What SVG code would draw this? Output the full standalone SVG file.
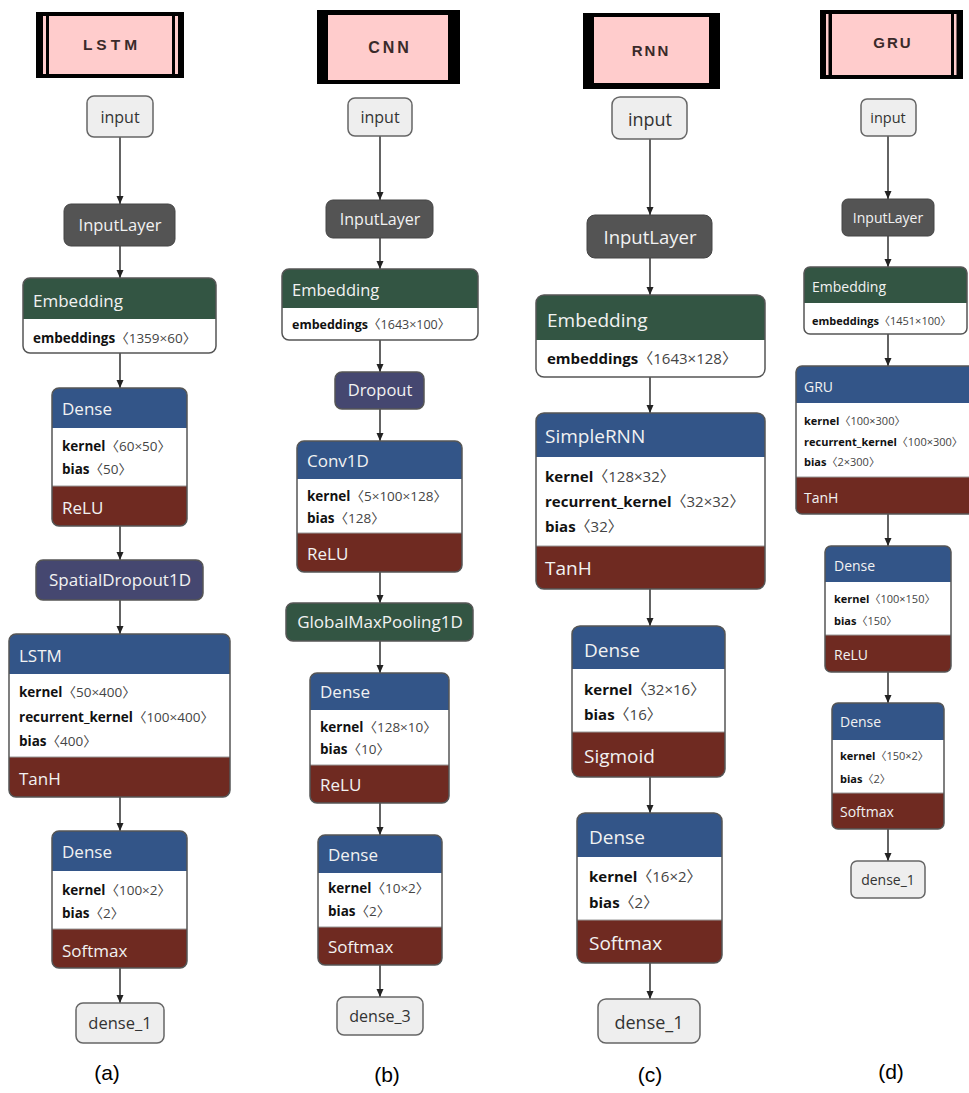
<svg xmlns="http://www.w3.org/2000/svg" width="969" height="1093" viewBox="0 0 969 1093">
<defs>
<marker id="arr" markerUnits="userSpaceOnUse" markerWidth="10" markerHeight="10" refX="8" refY="4" orient="auto">
<path d="M0,0.5 L8,4 L0,7.5 z" fill="#222"/>
</marker>
<style>
text{font-family:"Open Sans","Noto Sans","DejaVu Sans",sans-serif}
.bg{fill:#fff}
.io{fill:#eeeeee;stroke:#666;stroke-width:1.5}
.il{fill:#545454;stroke:#444;stroke-width:1}
.blue{fill:#335588}
.green{fill:#335543}
.purple{fill:#454770}
.act{fill:#6f2a21}
.white{fill:#fff}
.outl{fill:none;stroke:#555;stroke-width:1.5}
.sep{stroke:#999;stroke-width:1}
.ht{fill:#f2f2f2}
.iot{fill:#333;text-anchor:middle}
.ct{fill:#f2f2f2;text-anchor:middle}
.lb{font-weight:bold;fill:#111}
.val{fill:#444;font-family:"Open Sans","Noto Sans CJK SC",sans-serif}
.tb{fill:#000}
.pink{fill:#ffcccc}
.title{font-family:"Liberation Sans",Arial,sans-serif;font-weight:bold;fill:#3a2a2a;text-anchor:middle}
.cap{font-family:"Liberation Sans",Arial,sans-serif;fill:#000;text-anchor:middle;font-size:21px}
.edge{stroke:#222;stroke-width:1.4;fill:none;marker-end:url(#arr)}
</style>
</defs>
<rect class="bg" x="0" y="0" width="969" height="1093"/>

<!-- ================= connectors ================= -->
<g id="connectors">
<line class="edge" x1="120" y1="137" x2="120" y2="204"/>
<line class="edge" x1="120" y1="246" x2="120" y2="278"/>
<line class="edge" x1="120" y1="353" x2="120" y2="388"/>
<line class="edge" x1="120" y1="526" x2="120" y2="560"/>
<line class="edge" x1="120" y1="600" x2="120" y2="634"/>
<line class="edge" x1="120" y1="797" x2="120" y2="831"/>
<line class="edge" x1="120" y1="968" x2="120" y2="1003"/>

<line class="edge" x1="380" y1="136" x2="380" y2="200"/>
<line class="edge" x1="380" y1="238" x2="380" y2="269"/>
<line class="edge" x1="380" y1="340" x2="380" y2="372"/>
<line class="edge" x1="380" y1="409" x2="380" y2="441"/>
<line class="edge" x1="380" y1="572" x2="380" y2="603"/>
<line class="edge" x1="380" y1="641" x2="380" y2="673"/>
<line class="edge" x1="380" y1="803" x2="380" y2="835"/>
<line class="edge" x1="380" y1="965" x2="380" y2="997"/>

<line class="edge" x1="650" y1="139" x2="650" y2="215"/>
<line class="edge" x1="650" y1="258" x2="650" y2="295"/>
<line class="edge" x1="650" y1="377" x2="650" y2="413"/>
<line class="edge" x1="650" y1="589" x2="650" y2="626"/>
<line class="edge" x1="650" y1="777" x2="650" y2="813"/>
<line class="edge" x1="650" y1="963" x2="650" y2="999"/>

<line class="edge" x1="888" y1="136" x2="888" y2="199"/>
<line class="edge" x1="888" y1="236" x2="888" y2="267"/>
<line class="edge" x1="888" y1="334" x2="888" y2="366"/>
<line class="edge" x1="888" y1="514" x2="888" y2="546"/>
<line class="edge" x1="888" y1="672" x2="888" y2="703"/>
<line class="edge" x1="888" y1="829" x2="888" y2="861"/>
</g>

<!-- ================= column (a) LSTM ================= -->
<g id="a-title">
<rect class="tb" x="36" y="12" width="148" height="66"/>
<rect class="pink" x="49" y="16" width="123" height="58"/>
<rect class="pink" x="43" y="16" width="3" height="58"/>
<rect class="pink" x="175" y="16" width="3" height="58"/>
<text class="title" x="112" y="50" font-size="15.5" letter-spacing="4">LSTM</text>
</g>
<g id="a-input">
<rect class="io" x="87" y="96" width="66" height="41" rx="7"/>
<text class="iot" x="120" y="123" font-size="16">input</text>
</g>
<g id="a-inputlayer">
<rect class="il" x="64" y="204" width="111" height="42" rx="7"/>
<text class="ct" x="120" y="231" font-size="16.5">InputLayer</text>
</g>
<g id="a-embedding">
<rect class="green" x="23" y="278" width="193" height="75" rx="7"/>
<rect class="white" x="23" y="319" width="193" height="34" rx="7"/>
<rect class="white" x="23" y="319" width="193" height="10"/>
<rect class="outl" x="23" y="278" width="193" height="75" rx="7"/>
<text class="ht" x="33" y="307" font-size="17">Embedding</text>
<text x="33" y="343" font-size="13.5"><tspan class="lb">embeddings</tspan><tspan class="val">〈1359×60〉</tspan></text>
</g>
<g id="a-dense1">
<rect class="blue" x="52" y="388" width="135" height="138" rx="7"/>
<rect class="white" x="52" y="428" width="135" height="58"/>
<rect class="act" x="52" y="486" width="135" height="40" rx="7"/>
<rect class="act" x="52" y="486" width="135" height="10"/>
<line class="sep" x1="52" y1="486" x2="187" y2="486"/>
<rect class="outl" x="52" y="388" width="135" height="138" rx="7"/>
<text class="ht" x="62" y="415" font-size="17">Dense</text>
<text x="62" y="451" font-size="13.5"><tspan class="lb">kernel</tspan><tspan class="val">〈60×50〉</tspan></text>
<text x="62" y="474" font-size="13.5"><tspan class="lb">bias</tspan><tspan class="val">〈50〉</tspan></text>
<text class="ht" x="62" y="514" font-size="17">ReLU</text>
</g>
<g id="a-spatialdropout">
<rect class="purple" x="36" y="560" width="167" height="40" rx="7"/>
<rect class="outl" x="36" y="560" width="167" height="40" rx="7"/>
<text class="ct" x="120" y="586" font-size="17">SpatialDropout1D</text>
</g>
<g id="a-lstm">
<rect class="blue" x="9" y="634" width="221" height="163" rx="7"/>
<rect class="white" x="9" y="674" width="221" height="83"/>
<rect class="act" x="9" y="757" width="221" height="40" rx="7"/>
<rect class="act" x="9" y="757" width="221" height="10"/>
<line class="sep" x1="9" y1="757" x2="230" y2="757"/>
<rect class="outl" x="9" y="634" width="221" height="163" rx="7"/>
<text class="ht" x="19" y="662" font-size="17">LSTM</text>
<text x="19" y="697" font-size="13.5"><tspan class="lb">kernel</tspan><tspan class="val">〈50×400〉</tspan></text>
<text x="19" y="722" font-size="13.5"><tspan class="lb">recurrent_kernel</tspan><tspan class="val">〈100×400〉</tspan></text>
<text x="19" y="746" font-size="13.5"><tspan class="lb">bias</tspan><tspan class="val">〈400〉</tspan></text>
<text class="ht" x="19" y="785" font-size="17">TanH</text>
</g>
<g id="a-dense2">
<rect class="blue" x="52" y="831" width="135" height="137" rx="7"/>
<rect class="white" x="52" y="871" width="135" height="58"/>
<rect class="act" x="52" y="929" width="135" height="39" rx="7"/>
<rect class="act" x="52" y="929" width="135" height="10"/>
<line class="sep" x1="52" y1="929" x2="187" y2="929"/>
<rect class="outl" x="52" y="831" width="135" height="137" rx="7"/>
<text class="ht" x="62" y="858" font-size="17">Dense</text>
<text x="62" y="895" font-size="13.5"><tspan class="lb">kernel</tspan><tspan class="val">〈100×2〉</tspan></text>
<text x="62" y="918" font-size="13.5"><tspan class="lb">bias</tspan><tspan class="val">〈2〉</tspan></text>
<text class="ht" x="62" y="957" font-size="17">Softmax</text>
</g>
<g id="a-output">
<rect class="io" x="76" y="1003" width="88" height="40" rx="7"/>
<text class="iot" x="120" y="1029" font-size="16.5">dense_1</text>
</g>
<text class="cap" x="107" y="1080">(a)</text>

<!-- ================= column (b) CNN ================= -->
<g id="b-title">
<rect class="tb" x="317" y="10" width="143" height="74"/>
<rect class="pink" x="328" y="15" width="120" height="65"/>
<text class="title" x="390" y="53" font-size="16" letter-spacing="3">CNN</text>
</g>
<g id="b-input">
<rect class="io" x="348" y="98" width="64" height="38" rx="7"/>
<text class="iot" x="380" y="123" font-size="16">input</text>
</g>
<g id="b-inputlayer">
<rect class="il" x="326" y="200" width="107" height="38" rx="7"/>
<text class="ct" x="380" y="225" font-size="16">InputLayer</text>
</g>
<g id="b-embedding">
<rect class="green" x="282" y="269" width="196" height="71" rx="7"/>
<rect class="white" x="282" y="308" width="196" height="32" rx="7"/>
<rect class="white" x="282" y="308" width="196" height="10"/>
<rect class="outl" x="282" y="269" width="196" height="71" rx="7"/>
<text class="ht" x="292" y="296" font-size="16.5">Embedding</text>
<text x="292" y="329" font-size="12.5"><tspan class="lb">embeddings</tspan><tspan class="val">〈1643×100〉</tspan></text>
</g>
<g id="b-dropout">
<rect class="purple" x="335" y="372" width="89" height="37" rx="7"/>
<rect class="outl" x="335" y="372" width="89" height="37" rx="7"/>
<text class="ct" x="380" y="396" font-size="16.5">Dropout</text>
</g>
<g id="b-conv1d">
<rect class="blue" x="297" y="441" width="165" height="131" rx="7"/>
<rect class="white" x="297" y="479" width="165" height="54"/>
<rect class="act" x="297" y="533" width="165" height="39" rx="7"/>
<rect class="act" x="297" y="533" width="165" height="10"/>
<line class="sep" x1="297" y1="533" x2="462" y2="533"/>
<rect class="outl" x="297" y="441" width="165" height="131" rx="7"/>
<text class="ht" x="307" y="467" font-size="17">Conv1D</text>
<text x="307" y="501" font-size="13.5"><tspan class="lb">kernel</tspan><tspan class="val">〈5×100×128〉</tspan></text>
<text x="307" y="523" font-size="13.5"><tspan class="lb">bias</tspan><tspan class="val">〈128〉</tspan></text>
<text class="ht" x="307" y="560" font-size="17">ReLU</text>
</g>
<g id="b-globalmaxpool">
<rect class="green" x="286" y="603" width="187" height="38" rx="7"/>
<rect class="outl" x="286" y="603" width="187" height="38" rx="7"/>
<text class="ct" x="380" y="628" font-size="17">GlobalMaxPooling1D</text>
</g>
<g id="b-dense1">
<rect class="blue" x="310" y="673" width="139" height="130" rx="7"/>
<rect class="white" x="310" y="710" width="139" height="55"/>
<rect class="act" x="310" y="765" width="139" height="38" rx="7"/>
<rect class="act" x="310" y="765" width="139" height="10"/>
<line class="sep" x1="310" y1="765" x2="449" y2="765"/>
<rect class="outl" x="310" y="673" width="139" height="130" rx="7"/>
<text class="ht" x="320" y="698" font-size="17">Dense</text>
<text x="320" y="732" font-size="13.5"><tspan class="lb">kernel</tspan><tspan class="val">〈128×10〉</tspan></text>
<text x="320" y="754" font-size="13.5"><tspan class="lb">bias</tspan><tspan class="val">〈10〉</tspan></text>
<text class="ht" x="320" y="791" font-size="17">ReLU</text>
</g>
<g id="b-dense2">
<rect class="blue" x="318" y="835" width="124" height="130" rx="7"/>
<rect class="white" x="318" y="873" width="124" height="54"/>
<rect class="act" x="318" y="927" width="124" height="38" rx="7"/>
<rect class="act" x="318" y="927" width="124" height="10"/>
<line class="sep" x1="318" y1="927" x2="442" y2="927"/>
<rect class="outl" x="318" y="835" width="124" height="130" rx="7"/>
<text class="ht" x="328" y="861" font-size="17">Dense</text>
<text x="328" y="893" font-size="13.5"><tspan class="lb">kernel</tspan><tspan class="val">〈10×2〉</tspan></text>
<text x="328" y="916" font-size="13.5"><tspan class="lb">bias</tspan><tspan class="val">〈2〉</tspan></text>
<text class="ht" x="328" y="953" font-size="17">Softmax</text>
</g>
<g id="b-output">
<rect class="io" x="337" y="997" width="86" height="38" rx="7"/>
<text class="iot" x="380" y="1022" font-size="16">dense_3</text>
</g>
<text class="cap" x="387" y="1082">(b)</text>

<!-- ================= column (c) RNN ================= -->
<g id="c-title">
<rect class="tb" x="583" y="13" width="137" height="76"/>
<rect class="pink" x="594" y="17" width="115" height="66"/>
<text class="title" x="651" y="56" font-size="15" letter-spacing="2">RNN</text>
</g>
<g id="c-input">
<rect class="io" x="612" y="97" width="75" height="42" rx="8"/>
<text class="iot" x="650" y="126" font-size="18">input</text>
</g>
<g id="c-inputlayer">
<rect class="il" x="587" y="215" width="125" height="43" rx="8"/>
<text class="ct" x="650" y="244" font-size="18.5">InputLayer</text>
</g>
<g id="c-embedding">
<rect class="green" x="536" y="295" width="229" height="82" rx="8"/>
<rect class="white" x="536" y="340" width="229" height="37" rx="8"/>
<rect class="white" x="536" y="340" width="229" height="10"/>
<rect class="outl" x="536" y="295" width="229" height="82" rx="8"/>
<text class="ht" x="547" y="327" font-size="19">Embedding</text>
<text x="547" y="364" font-size="15"><tspan class="lb">embeddings</tspan><tspan class="val">〈1643×128〉</tspan></text>
</g>
<g id="c-simplernn">
<rect class="blue" x="536" y="413" width="229" height="176" rx="8"/>
<rect class="white" x="536" y="457" width="229" height="89"/>
<rect class="act" x="536" y="546" width="229" height="43" rx="8"/>
<rect class="act" x="536" y="546" width="229" height="10"/>
<line class="sep" x1="536" y1="546" x2="765" y2="546"/>
<rect class="outl" x="536" y="413" width="229" height="176" rx="8"/>
<text class="ht" x="545" y="443" font-size="19">SimpleRNN</text>
<text x="545" y="482" font-size="15"><tspan class="lb">kernel</tspan><tspan class="val">〈128×32〉</tspan></text>
<text x="545" y="507" font-size="15"><tspan class="lb">recurrent_kernel</tspan><tspan class="val">〈32×32〉</tspan></text>
<text x="545" y="532" font-size="15"><tspan class="lb">bias</tspan><tspan class="val">〈32〉</tspan></text>
<text class="ht" x="545" y="575" font-size="19">TanH</text>
</g>
<g id="c-dense1">
<rect class="blue" x="572" y="626" width="153" height="151" rx="8"/>
<rect class="white" x="572" y="669" width="153" height="63"/>
<rect class="act" x="572" y="732" width="153" height="45" rx="8"/>
<rect class="act" x="572" y="732" width="153" height="10"/>
<line class="sep" x1="572" y1="732" x2="725" y2="732"/>
<rect class="outl" x="572" y="626" width="153" height="151" rx="8"/>
<text class="ht" x="584" y="657" font-size="19">Dense</text>
<text x="584" y="695" font-size="15"><tspan class="lb">kernel</tspan><tspan class="val">〈32×16〉</tspan></text>
<text x="584" y="720" font-size="15"><tspan class="lb">bias</tspan><tspan class="val">〈16〉</tspan></text>
<text class="ht" x="584" y="763" font-size="19">Sigmoid</text>
</g>
<g id="c-dense2">
<rect class="blue" x="577" y="813" width="145" height="150" rx="8"/>
<rect class="white" x="577" y="857" width="145" height="63"/>
<rect class="act" x="577" y="920" width="145" height="43" rx="8"/>
<rect class="act" x="577" y="920" width="145" height="10"/>
<line class="sep" x1="577" y1="920" x2="722" y2="920"/>
<rect class="outl" x="577" y="813" width="145" height="150" rx="8"/>
<text class="ht" x="589" y="844" font-size="19">Dense</text>
<text x="589" y="882" font-size="15"><tspan class="lb">kernel</tspan><tspan class="val">〈16×2〉</tspan></text>
<text x="589" y="908" font-size="15"><tspan class="lb">bias</tspan><tspan class="val">〈2〉</tspan></text>
<text class="ht" x="589" y="950" font-size="19">Softmax</text>
</g>
<g id="c-output">
<rect class="io" x="598" y="999" width="102" height="44" rx="8"/>
<text class="iot" x="649" y="1029" font-size="18">dense_1</text>
</g>
<text class="cap" x="650" y="1082">(c)</text>

<!-- ================= column (d) GRU ================= -->
<g id="d-title">
<rect class="tb" x="820" y="10" width="143" height="69"/>
<rect class="pink" x="832" y="14" width="119" height="61"/>
<rect class="pink" x="826" y="14" width="2.5" height="61"/>
<rect class="pink" x="954" y="14" width="2.5" height="61"/>
<text class="title" x="893" y="48" font-size="15" letter-spacing="2">GRU</text>
</g>
<g id="d-input">
<rect class="io" x="861" y="99" width="55" height="37" rx="6"/>
<text class="iot" x="888" y="123" font-size="14.5">input</text>
</g>
<g id="d-inputlayer">
<rect class="il" x="842" y="199" width="92" height="37" rx="6"/>
<text class="ct" x="888" y="223" font-size="14">InputLayer</text>
</g>
<g id="d-embedding">
<rect class="green" x="804" y="267" width="163" height="67" rx="6"/>
<rect class="white" x="804" y="303" width="163" height="31" rx="6"/>
<rect class="white" x="804" y="303" width="163" height="10"/>
<rect class="outl" x="804" y="267" width="163" height="67" rx="6"/>
<text class="ht" x="812" y="292" font-size="14">Embedding</text>
<text x="812" y="325" font-size="11"><tspan class="lb">embeddings</tspan><tspan class="val">〈1451×100〉</tspan></text>
</g>
<g id="d-gru">
<rect class="blue" x="796" y="366" width="185" height="148" rx="6"/>
<rect class="white" x="796" y="403" width="185" height="74"/>
<rect class="act" x="796" y="477" width="185" height="37" rx="6"/>
<rect class="act" x="796" y="477" width="185" height="10"/>
<line class="sep" x1="796" y1="477" x2="981" y2="477"/>
<rect class="outl" x="796" y="366" width="185" height="148" rx="6"/>
<text class="ht" x="804" y="392" font-size="14">GRU</text>
<text x="804" y="425" font-size="11"><tspan class="lb">kernel</tspan><tspan class="val">〈100×300〉</tspan></text>
<text x="804" y="446" font-size="11"><tspan class="lb">recurrent_kernel</tspan><tspan class="val">〈100×300〉</tspan></text>
<text x="804" y="466" font-size="11"><tspan class="lb">bias</tspan><tspan class="val">〈2×300〉</tspan></text>
<text class="ht" x="804" y="503" font-size="14">TanH</text>
</g>
<g id="d-dense1">
<rect class="blue" x="825" y="546" width="126" height="126" rx="6"/>
<rect class="white" x="825" y="582" width="126" height="53"/>
<rect class="act" x="825" y="635" width="126" height="37" rx="6"/>
<rect class="act" x="825" y="635" width="126" height="10"/>
<line class="sep" x1="825" y1="635" x2="951" y2="635"/>
<rect class="outl" x="825" y="546" width="126" height="126" rx="6"/>
<text class="ht" x="834" y="571" font-size="14">Dense</text>
<text x="834" y="603" font-size="11"><tspan class="lb">kernel</tspan><tspan class="val">〈100×150〉</tspan></text>
<text x="834" y="625" font-size="11"><tspan class="lb">bias</tspan><tspan class="val">〈150〉</tspan></text>
<text class="ht" x="834" y="660" font-size="14">ReLU</text>
</g>
<g id="d-dense2">
<rect class="blue" x="832" y="703" width="112" height="126" rx="6"/>
<rect class="white" x="832" y="740" width="112" height="53"/>
<rect class="act" x="832" y="793" width="112" height="36" rx="6"/>
<rect class="act" x="832" y="793" width="112" height="10"/>
<line class="sep" x1="832" y1="793" x2="944" y2="793"/>
<rect class="outl" x="832" y="703" width="112" height="126" rx="6"/>
<text class="ht" x="840" y="727" font-size="14">Dense</text>
<text x="840" y="760" font-size="11"><tspan class="lb">kernel</tspan><tspan class="val">〈150×2〉</tspan></text>
<text x="840" y="783" font-size="11"><tspan class="lb">bias</tspan><tspan class="val">〈2〉</tspan></text>
<text class="ht" x="840" y="817" font-size="14">Softmax</text>
</g>
<g id="d-output">
<rect class="io" x="851" y="861" width="74" height="37" rx="6"/>
<text class="iot" x="888" y="885" font-size="14">dense_1</text>
</g>
<text class="cap" x="891" y="1079">(d)</text>
</svg>
